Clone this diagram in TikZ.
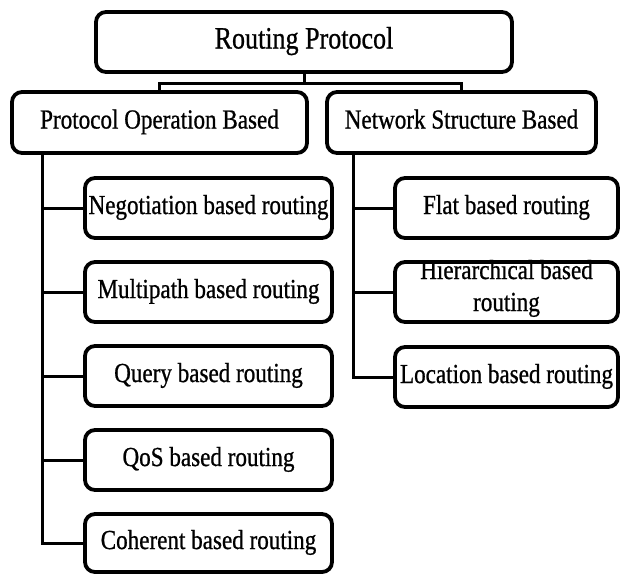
\documentclass[tikz,border=0pt]{standalone}
\usepackage{fontspec}
\setmainfont[FakeStretch=0.84,FakeBold=0.8]{Liberation Serif}
\begin{document}
\begin{tikzpicture}[x=1pt,y=-1pt,
  box/.style={draw, line width=3.8pt, rounded corners=10pt, fill=white,
    inner sep=0pt, align=center, text height=18pt, text depth=6pt,
    font=\fontsize{27.5}{30}\selectfont},
  rootbox/.style={box, minimum width=416pt, minimum height=60pt,
    font=\fontsize{31}{34}\selectfont, text height=20pt, text depth=7pt},
  catbox/.style={box, minimum height=61pt},
  leftleaf/.style={box, minimum width=247pt, minimum height=60pt},
  rightleaf/.style={box, minimum width=223pt, minimum height=60pt},
  link/.style={line width=3pt}]
\useasboundingbox (0,0) rectangle (620,574);

% top level
\node[rootbox] (root) at (304,42) {Routing Protocol};

% two categories
\node[catbox, minimum width=295pt] (pob) at (159.5,122.5) {Protocol Operation Based};
\node[catbox, minimum width=269pt] (nsb) at (461.5,122.5) {Network Structure Based};

% protocol operation based leaves
\node[leftleaf] (neg) at (208.5,208) {Negotiation based routing};
\node[leftleaf] (mul) at (208.5,292) {Multipath based routing};
\node[leftleaf] (qry) at (208.5,376) {Query based routing};
\node[leftleaf] (qos) at (208.5,460) {QoS based routing};
\node[leftleaf, minimum height=58pt] (coh) at (208.5,543) {Coherent based routing};

% network structure based leaves
\node[rightleaf] (flt) at (506.5,208) {Flat based routing};
\node[rightleaf, font=\fontsize{27.5}{32}\selectfont, text height=46pt, text depth=8pt] (hie) at (506.5,292) {Hierarchical based\\routing};
\node[rightleaf] (loc) at (506.5,377) {Location based routing};

% spines
\coordinate (lsp) at (42,0);
\coordinate (rsp) at (353,0);

% root to categories
\draw[link] (root.south) -- ++(0,10) coordinate (bus) -| (pob.north);
\draw[link] (bus) -| (nsb.north);

% left tree
\draw[link] (lsp |- pob.south) |- (coh.west);
\foreach \n in {neg,mul,qry,qos}
  \draw[link] (lsp |- \n.west) -- (\n.west);

% right tree
\draw[link] (rsp |- nsb.south) |- (loc.west);
\foreach \n in {flt,hie}
  \draw[link] (rsp |- \n.west) -- (\n.west);
\end{tikzpicture}
\end{document}
